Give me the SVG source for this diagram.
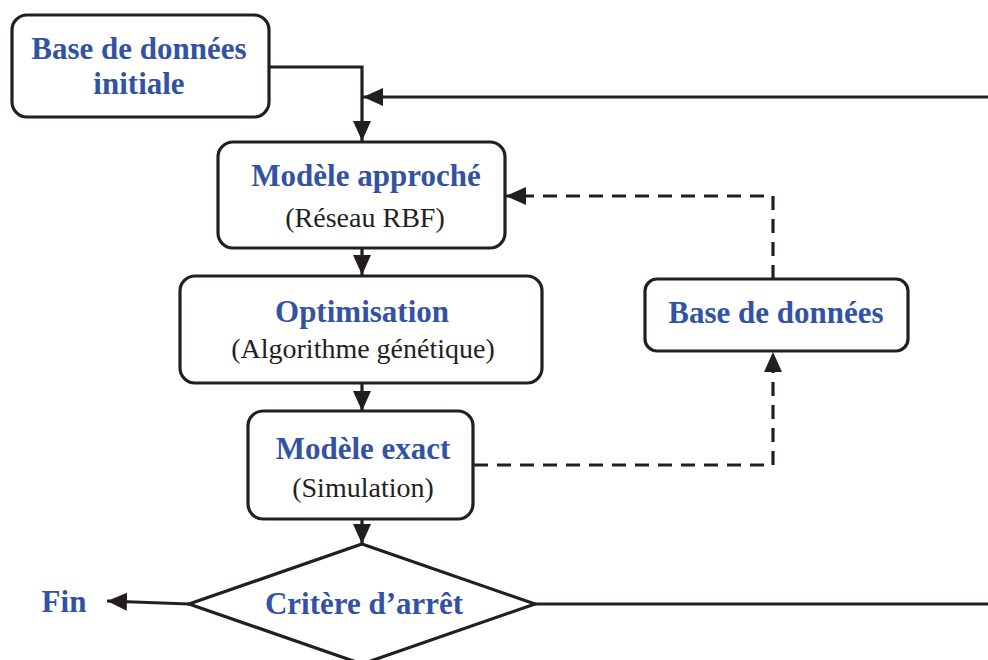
<svg xmlns="http://www.w3.org/2000/svg" width="988" height="660" viewBox="0 0 988 660">
<style>
.box{fill:#fff;stroke:#231f20;stroke-width:3.2}
.t{font-family:"Liberation Serif","Times New Roman",serif;font-weight:bold;font-size:31px;fill:#3452a4;text-anchor:middle}
.s{font-family:"Liberation Serif","Times New Roman",serif;font-size:28px;fill:#231f20;text-anchor:middle}
.c{fill:none;stroke:#231f20;stroke-width:3.2}
.d{stroke-dasharray:14 9}
</style>
<defs>
<marker id="ah" markerUnits="userSpaceOnUse" markerWidth="22" markerHeight="22" viewBox="0 0 22 22" refX="20" refY="11" orient="auto">
<path d="M0,2 L20,11 L0,20 Z" fill="#231f20"/>
</marker>
</defs>
<g id="connectors">
<path class="c" d="M269,67 H362 V141" marker-end="url(#ah)"/>
<path class="c" d="M988,97 H363" marker-end="url(#ah)"/>
<path class="c" d="M362,249 V275" marker-end="url(#ah)"/>
<path class="c" d="M362,383 V411" marker-end="url(#ah)"/>
<path class="c" d="M362,519 V544" marker-end="url(#ah)"/>
<path class="c" d="M189,604 L107,601" marker-end="url(#ah)"/>
<path class="c" d="M535,604 H988"/>
<path class="c d" d="M474,465 H773 V352" marker-end="url(#ah)"/>
<path class="c d" d="M773,279 V196 H506" marker-end="url(#ah)"/>
</g>
<g id="n1">
<rect class="box" x="12" y="15" width="257" height="102" rx="15"/>
<text class="t" x="139" y="59">Base de données</text>
<text class="t" x="139" y="94">initiale</text>
</g>
<g id="n2">
<rect class="box" x="218" y="142" width="287" height="106" rx="15"/>
<text class="t" x="366" y="186">Modèle approché</text>
<text class="s" x="365" y="227">(Réseau RBF)</text>
</g>
<g id="n3">
<rect class="box" x="180" y="276" width="362" height="107" rx="15"/>
<text class="t" x="362" y="322">Optimisation</text>
<text class="s" x="363" y="358">(Algorithme génétique)</text>
</g>
<g id="n4">
<rect class="box" x="248" y="411" width="225" height="108" rx="15"/>
<text class="t" x="363" y="459">Modèle exact</text>
<text class="s" x="363" y="497">(Simulation)</text>
</g>
<g id="n5">
<rect class="box" x="645" y="279" width="263" height="72" rx="12"/>
<text class="t" x="776" y="323">Base de données</text>
</g>
<g id="n6">
<polygon class="box" points="362,544 535,604 362,664 189,604"/>
<text class="t" x="364" y="614">Critère d’arrêt</text>
</g>
<g id="n7">
<text class="t" x="64" y="612">Fin</text>
</g>
</svg>
